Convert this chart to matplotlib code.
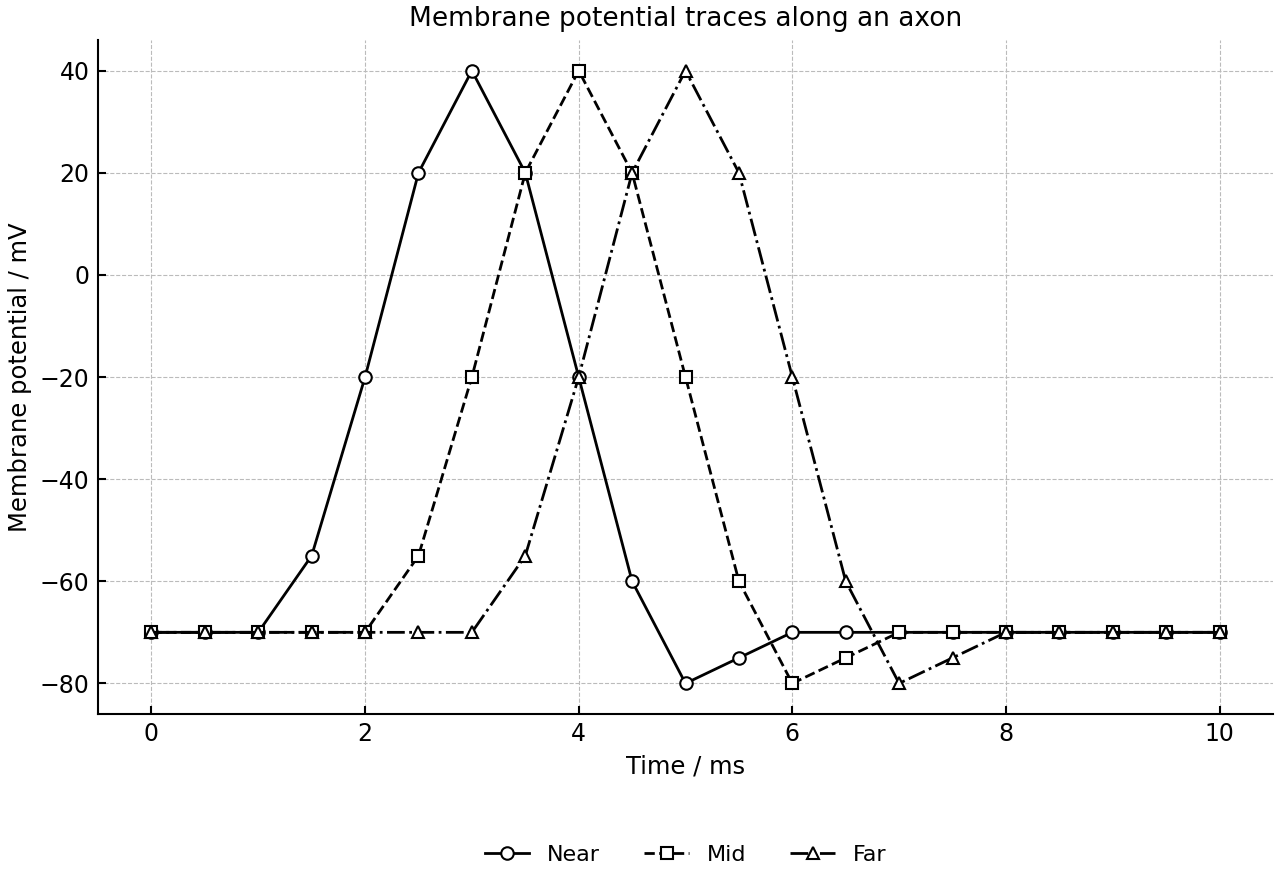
import matplotlib
matplotlib.use("Agg")
import matplotlib.pyplot as plt

time_ms = [0, 0.5, 1, 1.5, 2, 2.5, 3, 3.5, 4, 4.5, 5, 5.5, 6, 6.5, 7, 7.5, 8, 8.5, 9, 9.5, 10]
near = [-70, -70, -70, -55, -20, 20, 40, 20, -20, -60, -80, -75, -70, -70, -70, -70, -70, -70, -70, -70, -70]
mid = [-70, -70, -70, -70, -70, -55, -20, 20, 40, 20, -20, -60, -80, -75, -70, -70, -70, -70, -70, -70, -70]
far = [-70, -70, -70, -70, -70, -70, -70, -55, -20, 20, 40, 20, -20, -60, -80, -75, -70, -70, -70, -70, -70]

fig = plt.figure(figsize=(12.8, 8.8), dpi=100)
ax = fig.add_axes([0.0766, 0.1886, 0.9179, 0.7659])

style = dict(color="black", lw=2, markersize=9, markerfacecolor="white",
             markeredgecolor="black", markeredgewidth=1.5)
ax.plot(time_ms, near, "-", marker="o", label="Near", **style)
ax.plot(time_ms, mid, "--", marker="s", label="Mid", **style)
ax.plot(time_ms, far, "-.", marker="^", label="Far", **style)

ax.set_title("Membrane potential traces along an axon", fontsize=19, pad=10)
ax.set_xlabel("Time / ms", fontsize=17.5, labelpad=6)
ax.set_ylabel("Membrane potential / mV", fontsize=17.5, labelpad=6)
ax.tick_params(direction="in", labelsize=17, width=1.5, length=6, pad=6)
ax.grid(True, linestyle="--", color="#bbbbbb", lw=0.8)
ax.spines["top"].set_visible(False)
ax.spines["right"].set_visible(False)
ax.spines["left"].set_linewidth(1.5)
ax.spines["bottom"].set_linewidth(1.5)
ax.set_xlim(-0.5, 10.5)
ax.set_ylim(-86, 46)
ax.set_yticks([-80, -60, -40, -20, 0, 20, 40])

ax.legend(loc="upper center", bbox_to_anchor=(0.5, -0.165), ncol=3, frameon=False,
          fontsize=16, columnspacing=2.0)

fig.savefig("out.png", dpi=100)
